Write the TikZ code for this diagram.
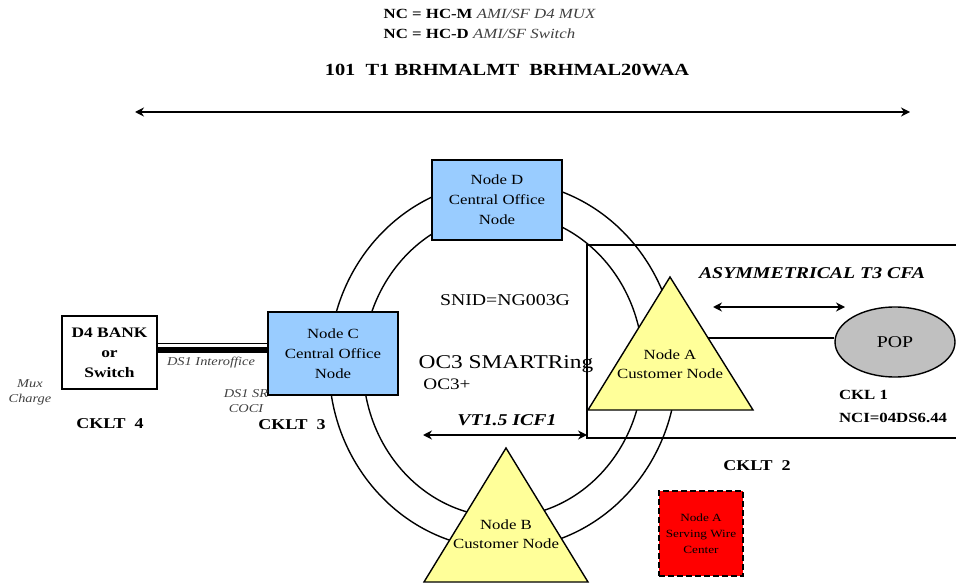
\documentclass[tikz,border=0pt]{standalone}
\usepackage{fontspec}
\setmainfont{Liberation Serif}[FakeStretch=1.2]
\usetikzlibrary{arrows.meta, shapes.geometric}

\definecolor{coblue}{HTML}{99CCFF}
\definecolor{custyellow}{HTML}{FFFF99}
\definecolor{popgray}{HTML}{C0C0C0}
\definecolor{notegray}{HTML}{404040}

\begin{document}
\begin{tikzpicture}[
            x = 1pt, y = -1pt, % pixel units, y grows downwards
            > = {Stealth[length=9pt, width=9pt]}, % arrow head style
            line width = 1.4pt % line style
        ]

        \tikzstyle{co node}=[
            draw = black,
            fill = coblue,
            line width = 1.6pt,
            align = center,
            minimum width = 130pt,
            inner sep = 0pt,
            font = \fontsize{14}{20}\selectfont
        ]
        \tikzstyle{cust tri}=[
            draw = black,
            fill = custyellow,
            line width = 1.4pt
        ]
        \tikzstyle{tri text}=[
            align = center,
            font = \fontsize{14}{19}\selectfont
        ]
        \tikzstyle{cklt}=[
            font = \fontsize{15}{18}\selectfont\bfseries
        ]
        \tikzstyle{note}=[
            align = center,
            text = notegray,
            font = \fontsize{12}{15}\selectfont\itshape
        ]
        \tikzstyle{tag}=[
            font = \fontsize{16.5}{20}\selectfont\bfseries\itshape
        ]

        \useasboundingbox (0,0) rectangle (956,583);

        % heading
        \node[anchor=west, inner sep=0pt] (ncm) at (383,14)
            {\fontsize{14}{16}\selectfont\bfseries NC = HC-M \mdseries\itshape\color{notegray}AMI/SF D4 MUX};
        \node[anchor=west, inner sep=0pt] (ncd) at (383,34)
            {\fontsize{14}{16}\selectfont\bfseries NC = HC-D \mdseries\itshape\color{notegray}AMI/SF Switch};
        \node[font=\fontsize{17}{20}\selectfont\bfseries] (circuit) at (507,70)
            {101\ \ T1 BRHMALMT\ \ BRHMAL20WAA};
        \coordinate (spanL) at (135,112);
        \coordinate (spanR) at (910,112);
        \draw[<->] (spanL) -- (spanR);

        % the ring
        \draw (503,365) ellipse [x radius=174, y radius=184];
        \draw (503,365) ellipse [x radius=140, y radius=152];

        % CFA area, runs off the right edge
        \draw (960,245) -- (587,245) -- (587,438) -- (960,438);

        % ring nodes
        \node[co node, minimum height=80pt] (nodeD) at (497,200) {Node D\\Central Office\\Node};
        \node[co node, minimum height=83pt] (nodeC) at (333,353.5) {Node C\\Central Office\\Node};

        \coordinate (aTop) at (670,277);
        \coordinate (aLeft) at (588,410);
        \coordinate (aRight) at (753,410);
        \draw[cust tri] (aTop) -- (aRight) -- (aLeft) -- cycle;
        \node[tri text] (nodeA) at (670,364) {Node A\\Customer Node};
        \coordinate (aSide) at (708,338);

        \coordinate (bTop) at (506,448);
        \coordinate (bLeft) at (424,582);
        \coordinate (bRight) at (588,582);
        \draw[cust tri] (bTop) -- (bRight) -- (bLeft) -- cycle;
        \node[tri text] (nodeB) at (506,534) {Node B\\Customer Node};

        % far ends
        \node[draw, line width=1.5pt, fill=white, minimum width=95pt, minimum height=73pt,
              inner sep=0pt, align=center, font=\fontsize{14.5}{20}\selectfont\bfseries]
              (bank) at (109.5,352.5) {D4 BANK\\or\\Switch};
        \node[ellipse, draw, line width=1.4pt, fill=popgray, minimum width=120pt,
              minimum height=70pt, inner sep=0pt, font=\fontsize{16.5}{20}\selectfont]
              (pop) at (895,342) {POP};
        \node[draw, dash pattern=on 6pt off 3pt, line width=1.3pt, fill=red, minimum width=84pt,
              minimum height=85pt, inner sep=0pt, align=center, font=\fontsize{11}{16}\selectfont]
              (wire) at (701,533.5) {Node A\\Serving Wire\\Center};

        % links
        \draw[line width=6pt] ([yshift=2.5pt]bank.east) -- ([yshift=2.5pt]bank.east -| nodeC.west);
        \draw[line width=1pt] ([yshift=9pt]bank.east) -- ([yshift=9pt]bank.east -| nodeC.west);
        \draw (aSide) -- (aSide -| pop.west);

        \coordinate (cfaL) at (713,307);
        \coordinate (cfaR) at (845,307);
        \draw[<->] (cfaL) -- (cfaR);
        \coordinate (vtL) at (423,435);
        \coordinate (vtR) at (587,435);
        \draw[<->] (vtL) -- (vtR);

        % labels
        \node[tag] (cfa) at (812,273) {ASYMMETRICAL T3 CFA};
        \node[tag] (vt) at (507,420) {VT1.5 ICF1};
        \node[font=\fontsize{16.5}{20}\selectfont] (snid) at (505,300) {SNID=NG003G};
        \node[font=\fontsize{19.5}{22}\selectfont] (ring) at (506,364) {OC3 SMARTRing};
        \node[font=\fontsize{16}{20}\selectfont] (oc3) at (447,384) {OC3+};
        \node[note] (ds1io) at (211,363) {DS1 Interoffice};
        \node[note] (ds1sr) at (246,401.5) {DS1 SR\\COCI};
        \node[note] (mux) at (30,392) {Mux\\Charge};
        \node[cklt] (cklt4) at (110,424) {CKLT\ \ 4};
        \node[cklt] (cklt3) at (292,425) {CKLT\ \ 3};
        \node[cklt] (cklt2) at (757,466) {CKLT\ \ 2};
        \node[cklt, anchor=west, align=left, font=\fontsize{14}{23}\selectfont\bfseries]
              (ckl1) at (835,406) {CKL 1\\NCI=04DS6.44};

  \end{tikzpicture}
\end{document}
